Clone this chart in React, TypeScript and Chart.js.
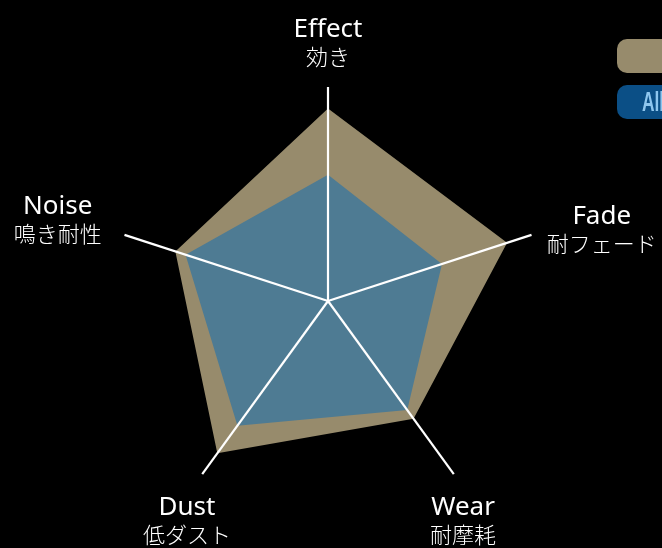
import React, { useEffect, useRef } from "react";
import { Chart, registerables } from "chart.js";

Chart.register(...registerables);

const axesEn = ["Effect", "Fade", "Wear", "Dust", "Noise"];
const axesJa = ["効き", "耐フェード", "耐摩耗", "低ダスト", "鳴き耐性"];
const seriesTan = [9.0, 8.8, 6.8, 8.8, 7.5];
const seriesBlue = [5.9, 5.6, 6.3, 7.2, 7.0];
const scaleMin = 0;
const scaleMax = 10;
const legendNames = ["", "All Round"];

const TAN = "#978b6c";
const BLUE = "#4e7b93";
const PILL_BLUE = "#0b4f86";

const labelPlugin = {
  id: "twoLineLabels",
  afterDraw(chart: any) {
    const scale = chart.scales.r;
    const ctx = chart.ctx;
    const enFont = '26px "Noto Sans", "Open Sans", sans-serif';
    const jaFont = '300 22px "Noto Sans CJK JP", sans-serif';
    const enBase = 20;
    const jaBase = 48;
    const blockH = 51;
    ctx.save();
    ctx.fillStyle = "#ffffff";
    ctx.textAlign = "center";
    ctx.textBaseline = "alphabetic";
    axesEn.forEach((en, i) => {
      const ja = axesJa[i];
      ctx.font = enFont;
      const wEn = ctx.measureText(en).width;
      ctx.font = jaFont;
      const wJa = ctx.measureText(ja).width;
      const w = Math.max(wEn, wJa);
      const deg = ((scale.getIndexAngle(i) * 180) / Math.PI + 360) % 360;
      let cx: number;
      let top: number;
      if (deg < 5 || deg > 355) {
        const p = scale.getPointPosition(i, scale.drawingArea + 19);
        cx = p.x;
        top = p.y - blockH;
      } else if (deg < 85) {
        const p = scale.getPointPosition(i, scale.drawingArea + 16);
        cx = p.x + w / 2;
        top = p.y - blockH / 2;
      } else if (deg > 275) {
        const p = scale.getPointPosition(i, scale.drawingArea + 24);
        cx = p.x - w / 2;
        top = p.y - blockH / 2 - 8;
      } else {
        const p = scale.getPointPosition(i, scale.drawingArea + 26);
        cx = deg < 180 ? p.x - 6 : p.x;
        top = p.y;
      }
      ctx.font = enFont;
      ctx.fillText(en, cx, top + enBase);
      ctx.font = jaFont;
      ctx.fillText(ja, cx, top + jaBase);
    });
    ctx.restore();
  },
};

export default function App() {
  const ref = useRef<HTMLCanvasElement | null>(null);

  useEffect(() => {
    if (!ref.current) return;
    const chart = new Chart(ref.current, {
      type: "radar",
      data: {
        labels: axesEn,
        datasets: [
          {
            label: legendNames[0],
            data: seriesTan,
            backgroundColor: TAN,
            borderWidth: 0,
            pointRadius: 0,
            fill: true,
            order: 2,
          },
          {
            label: legendNames[1],
            data: seriesBlue,
            backgroundColor: BLUE,
            borderWidth: 0,
            pointRadius: 0,
            fill: true,
            order: 1,
          },
        ],
      },
      options: {
        animation: false,
        responsive: false,
        devicePixelRatio: 1,
        layout: { padding: { left: 114, top: 87, right: 120, bottom: 33 } },
        plugins: {
          legend: { display: false },
          tooltip: { enabled: false },
        },
        scales: {
          r: {
            min: scaleMin,
            max: scaleMax,
            ticks: { display: false },
            grid: { display: false, z: 1 },
            angleLines: { display: true, color: "#ffffff", lineWidth: 2.2 },
            pointLabels: { display: false },
          },
        },
      } as any,
      plugins: [labelPlugin],
    });
    return () => chart.destroy();
  }, []);

  const pill: React.CSSProperties = {
    position: "absolute",
    left: 617,
    width: 170,
    height: 34,
    borderRadius: 10,
    boxSizing: "border-box",
    paddingLeft: 25,
    lineHeight: "34px",
    whiteSpace: "nowrap",
    overflow: "hidden",
  };

  const pillText: React.CSSProperties = {
    display: "inline-block",
    fontFamily: '"Liberation Sans", Arial, sans-serif',
    fontWeight: 700,
    fontSize: 28,
    transform: "scaleX(0.62)",
    transformOrigin: "left center",
  };

  return (
    <div
      style={{
        position: "absolute",
        left: 0,
        top: 0,
        width: 662,
        height: 548,
        background: "#000",
        overflow: "hidden",
      }}
    >
      <canvas
        ref={ref}
        width={662}
        height={548}
        style={{ position: "absolute", left: 0, top: 0, width: 662, height: 548 }}
      />
      <div style={{ ...pill, top: 39, background: TAN, color: "#3a3426" }}>
        <span style={pillText}>{legendNames[0]}</span>
      </div>
      <div style={{ ...pill, top: 85, background: PILL_BLUE, color: "#8ec6ee" }}>
        <span style={pillText}>{legendNames[1]}</span>
      </div>
    </div>
  );
}
